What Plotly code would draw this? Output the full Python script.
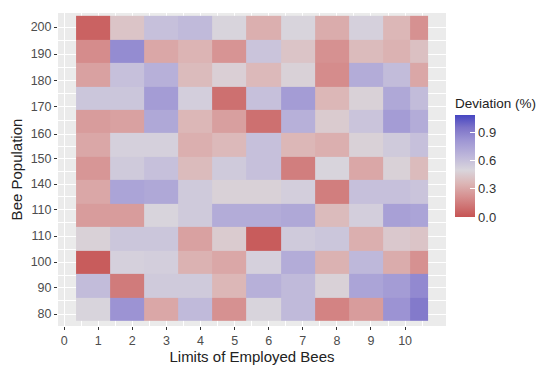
import plotly.graph_objects as go

# Column bin edges (Limits of Employed Bees) – 10 columns plus a narrow extra strip
x_edges = [0.35, 1.35, 2.35, 3.35, 4.35, 5.35, 6.35, 7.35, 8.35, 9.35, 10.15, 10.67]
x_tick_vals = [0, 1, 2, 3, 4, 5, 6, 7, 8, 9, 10]
x_tick_labels = ["0", "1", "2", "3", "4", "5", "6", "7", "8", "9", "10"]

# Row index (bottom to top)
row_index = [0, 1, 2, 3, 4, 5, 6, 7, 8, 9, 10, 11, 12]
y_tick_pos = [-0.19, 0.92, 2.02, 3.13, 4.24, 5.34, 6.41, 7.47, 8.62, 9.73, 10.87, 12.02]
y_tick_labels = ["80", "90", "100", "110", "110", "140", "150", "160", "170", "180", "190", "200"]

# Deviation (%) per row (bottom -> top), per column (left -> right)
row00 = [0.50, 0.82, 0.30, 0.63, 0.22, 0.50, 0.63, 0.17, 0.26, 0.82, 0.92]
row01 = [0.62, 0.14, 0.55, 0.55, 0.36, 0.68, 0.63, 0.48, 0.74, 0.78, 0.86]
row02 = [0.03, 0.52, 0.53, 0.34, 0.30, 0.52, 0.70, 0.34, 0.64, 0.32, 0.22]
row03 = [0.48, 0.57, 0.57, 0.28, 0.45, 0.03, 0.55, 0.57, 0.33, 0.44, 0.42]
row04 = [0.26, 0.26, 0.50, 0.55, 0.70, 0.70, 0.72, 0.38, 0.53, 0.76, 0.74]
row05 = [0.30, 0.74, 0.72, 0.55, 0.48, 0.48, 0.53, 0.15, 0.60, 0.60, 0.58]
row06 = [0.24, 0.55, 0.60, 0.38, 0.55, 0.60, 0.15, 0.50, 0.30, 0.48, 0.38]
row07 = [0.30, 0.52, 0.52, 0.33, 0.37, 0.60, 0.36, 0.33, 0.48, 0.55, 0.60]
row08 = [0.26, 0.28, 0.72, 0.36, 0.27, 0.10, 0.68, 0.45, 0.58, 0.78, 0.70]
row09 = [0.57, 0.57, 0.78, 0.53, 0.10, 0.60, 0.78, 0.36, 0.48, 0.72, 0.62]
row10 = [0.28, 0.60, 0.68, 0.38, 0.47, 0.37, 0.48, 0.20, 0.70, 0.62, 0.30]
row11 = [0.20, 0.85, 0.30, 0.35, 0.23, 0.58, 0.42, 0.22, 0.38, 0.34, 0.40]
row12 = [0.05, 0.42, 0.60, 0.63, 0.50, 0.33, 0.50, 0.32, 0.52, 0.36, 0.22]

z = [row00, row01, row02, row03, row04, row05, row06,
     row07, row08, row09, row10, row11, row12]

cb_ticks = [0.0, 0.3, 0.6, 0.9]

colorscale = [
    [0.0, "#c65454"], [0.2, "#d69090"], [0.33, "#dcb6b6"], [0.46, "#d9d5dc"],
    [0.6, "#bdb6da"], [0.75, "#9e96d4"], [0.88, "#7c72c8"], [1.0, "#4646c2"],
]

# layout geometry (pixels)
W, H = 550, 365
L, R, T, B = 50, 112, 5, 47
pw, ph = W - L - R, H - T - B

fig = go.Figure(go.Heatmap(
    x=x_edges, y=row_index, z=z,
    zmin=0.0, zmax=1.08, colorscale=colorscale,
    colorbar=dict(
        title=dict(text="Deviation (%)", side="top",
                   font=dict(size=13.5, color="#222222")),
        thickness=20, thicknessmode="pixels",
        len=122, lenmode="pixels",
        x=(447 - L) / pw, xanchor="left", xpad=0,
        y=(H - B - 148) / ph, yanchor="middle", ypad=0,
        tickvals=cb_ticks, tickformat=".1f",
        ticks="inside", ticklen=5, tickcolor="white", tickwidth=1,
        tickfont=dict(size=13, color="#333333"),
        outlinewidth=0,
    ),
))

mid_x = [v + 0.5 for v in x_tick_vals]
mid_y = [(a + b) / 2 for a, b in zip(y_tick_pos[:-1], y_tick_pos[1:])]

fig.update_layout(
    width=W, height=H,
    margin=dict(l=L, r=R, t=T, b=B, autoexpand=False),
    paper_bgcolor="white", plot_bgcolor="#ebebeb",
    font=dict(family="Liberation Sans, Arial, sans-serif"),
    xaxis=dict(
        range=[-0.18, 11.2], tickvals=x_tick_vals, ticktext=x_tick_labels,
        ticks="outside", ticklen=3, tickcolor="#333333",
        tickfont=dict(size=12.5, color="#4d4d4d"),
        showgrid=True, gridcolor="white", gridwidth=1.1, zeroline=False,
        minor=dict(tickvals=mid_x, showgrid=True, gridcolor="white", gridwidth=0.5),
        title=dict(text="Limits of Employed Bees", font=dict(size=15, color="#222222"), standoff=0),
        automargin=False,
    ),
    yaxis=dict(
        range=[-0.7, 12.62], tickvals=y_tick_pos, ticktext=y_tick_labels,
        ticks="outside", ticklen=3, tickcolor="#333333",
        tickfont=dict(size=12.5, color="#4d4d4d"),
        showgrid=True, gridcolor="white", gridwidth=1.1, zeroline=False,
        minor=dict(tickvals=mid_y, showgrid=True, gridcolor="white", gridwidth=0.5),
        title=dict(text="Bee Population", font=dict(size=15, color="#222222"), standoff=6),
        automargin=False,
    ),
)

fig.write_html("out.html")
